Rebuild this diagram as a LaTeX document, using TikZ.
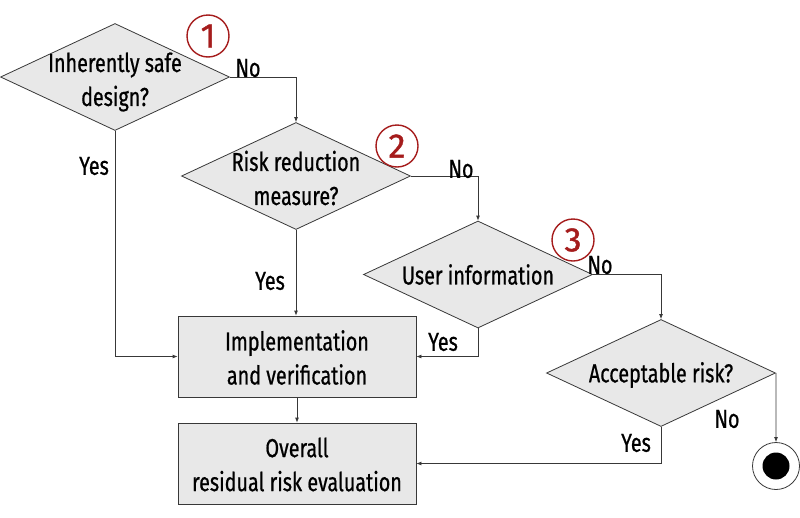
\documentclass[tikz,border=0pt]{standalone}
\usepackage{fontspec}
\setmainfont[FakeStretch=0.76,FakeBold=0.7]{Fira Sans}
\newfontfamily\numfont[FakeBold=1.2]{Fira Sans}
\usetikzlibrary{shapes.geometric,arrows.meta}
\definecolor{boxfill}{HTML}{E8E8E8}
\definecolor{linec}{HTML}{383838}
\definecolor{numred}{HTML}{A51C1C}
\begin{document}
\begin{tikzpicture}[x=1pt,y=-1pt,
  decision/.style={diamond, draw=linec, fill=boxfill, inner sep=0pt, minimum width=229pt, minimum height=107pt, line width=0.8pt},
  process/.style={rectangle, draw=linec, fill=boxfill, inner sep=0pt, minimum width=238pt, minimum height=81pt, line width=0.8pt},
  txt/.style={font=\fontsize{26}{34}\selectfont, align=center, text=black, inner sep=0pt},
  lbl/.style={font=\fontsize{26}{34}\selectfont, text=black, inner sep=0pt},
  arr/.style={draw=linec, line width=0.8pt, -{Latex[length=5pt,width=4pt]}},
  numc/.style={circle, draw=numred, line width=1.4pt, minimum size=42pt, inner sep=0pt, text=numred, font=\numfont\fontsize{34}{34}\selectfont},
  endc/.style={circle, draw=linec, fill=white, line width=0.8pt, minimum size=47pt, inner sep=0pt,
    path picture={\fill[black] (path picture bounding box.center) circle (13.5pt);}}
]
\useasboundingbox (0,0) rectangle (800,517);

\node[decision, label={[txt, yshift=-5pt]center:{Inherently safe\\design?}}] (d1) at (115,77) {};
\node[decision, label={[txt, yshift=-2pt]center:{Risk reduction\\measure?}}] (d2) at (296,176) {};
\node[decision, label={[txt]center:{User information}}] (d3) at (478,274.5) {};
\node[decision, label={[txt, yshift=-2pt]center:{Acceptable risk?}}] (d4) at (661,373) {};

\node[process, label={[txt, yshift=-1pt]center:{Implementation\\and verification}}] (b1) at (297,356.5) {};
\node[process, label={[txt, yshift=-1pt]center:{Overall\\residual risk evaluation}}] (b2) at (297,463.5) {};

\node[endc] (end) at (776,466) {};

\node[numc] (n1) at (208,36) {1};
\node[numc] (n2) at (397,146) {2};
\node[numc] (n3) at (573,240) {3};

\draw[arr] (d1.east) -| (d2.north);
\draw[arr] (d2.east) -| (d3.north);
\draw[arr] (d3.east) -| (d4.north);
\draw[arr] (d4.east) -- (end.north);
\draw[arr] (d1.south) |- (b1.west);
\draw[arr] (d2.south) -- (d2.south |- b1.north);
\draw[arr] (d3.south) |- (b1.east);
\draw[arr] (b1.south) -- (b2.north);
\draw[arr] (d4.south) |- (b2.east);

\node[lbl] (no1) at (248,68) {No};
\node[lbl] (yes1) at (94,166) {Yes};
\node[lbl] (no2) at (461,169) {No};
\node[lbl] (yes2) at (270,281) {Yes};
\node[lbl] (no3) at (600,265) {No};
\node[lbl] (yes3) at (443,342) {Yes};
\node[lbl] (no4) at (727,419) {No};
\node[lbl] (yes4) at (636,443) {Yes};
\end{tikzpicture}
\end{document}
